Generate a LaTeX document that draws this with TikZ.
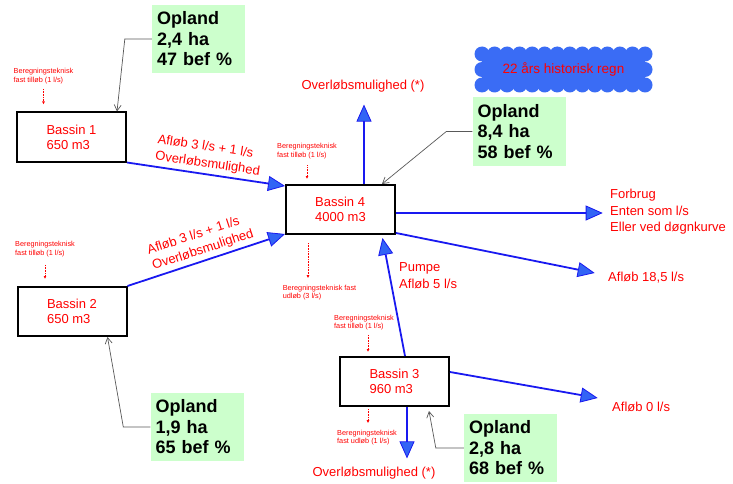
\documentclass[tikz,border=0pt]{standalone}
\usepackage{fontspec}
\setmainfont{Liberation Sans}
\usepackage{tikz}
\usetikzlibrary{arrows.meta,calc}
\definecolor{flowblue}{RGB}{25,25,240}
\definecolor{tipblue}{RGB}{50,100,245}
\definecolor{cloudblue}{RGB}{58,108,245}
\definecolor{oplandgreen}{RGB}{204,255,204}
\newcommand{\flowarrow}{-{Triangle[length=17pt,width=15pt,fill=tipblue,line width=0.8pt]}}
\newcommand{\feedarrow}{-{Straight Barb[length=6pt,width=7pt]}}
\tikzset{
  bassin/.style={draw,line width=2pt,minimum width=109pt,minimum height=49pt,align=left,text=red,font=\fontsize{13}{15}\selectfont},
  opland/.style={fill=oplandgreen,text width=83pt,inner xsep=5pt,minimum height=68pt,align=left,font=\fontsize{18}{20.5}\selectfont\bfseries},
  calcnote/.style={text=red,align=left,inner sep=1pt,font=\fontsize{7.3}{8.7}\selectfont},
  flowlabel/.style={text=red,align=left,font=\fontsize{13}{16.5}\selectfont},
  flow/.style={draw=flowblue,line width=1.8pt},
  calcarrow/.style={red,densely dotted,line width=0.6pt,-{Latex[length=3pt,width=3pt]}},
  feed/.style={gray!70!black,line width=0.7pt}
}

\begin{document}
\begin{tikzpicture}[x=1pt,y=-1pt]
                    \path[fill=white,use as bounding box] (0,0) rectangle (733,484);
                    % bassiner
                    \node[bassin] (b1) at (71.5,137) {Bassin 1\\650 m3};
                    \node[bassin] (b2) at (72,311.5) {Bassin 2\\650 m3};
                    \node[bassin] (b4) at (340.5,209.5) {Bassin 4\\4000 m3};
                    \node[bassin] (b3) at (394.5,381.5) {Bassin 3\\960 m3};
                    % oplande
                    \node[opland] (op1) at (198.5,39) {Opland\\2,4 ha\\47 bef \%};
                    \node[opland] (op4) at (519,131.5) {Opland\\8,4 ha\\58 bef \%};
                    \node[opland] (op2) at (197,427) {Opland\\1,9 ha\\65 bef \%};
                    \node[opland] (op3) at (510.5,448) {Opland\\2,8 ha\\68 bef \%};
                    \draw[feed,\feedarrow] (op1.west) -- ++(-27,0) -- ($(b1.north east)+(-10,0)$);
                    \draw[feed,\feedarrow] (op4.west) -- ++(-26,0) -- ($(b4.north east)+(-14,0)$);
                    \draw[feed,\feedarrow] (op2.west) -- ++(-27,0) -- ($(b2.south east)+(-20,0)$);
                    \draw[feed,\feedarrow] (op3.west) -- ++(-28,0) -- ($(b3.south east)+(-21,4)$);
                    % regn
                    \fill[cloudblue] (482,54) rectangle (645,85);
                    \foreach \i in {0,...,13} {
                        \fill[cloudblue] (482+\i*12.54,54) circle (7.5pt);
                        \fill[cloudblue] (482+\i*12.54,85) circle (7.5pt);
                    }
                    \foreach \x in {482,645} \fill[cloudblue] (\x,69.5) circle (7.5pt);
                    \node[text=red,font=\fontsize{13.5}{16}\selectfont] (regn) at (563.5,69.5) {22 års historisk regn};
                    % afløb
                    \node[flowlabel] (ovl4) at (363,86) {Overløbsmulighed (*)};
                    \node[flowlabel] (ovl3) at (374,473) {Overløbsmulighed (*)};
                    \node[flowlabel,anchor=west] (forbrug) at (606.7,212) {Forbrug\\Enten som l/s\\Eller ved døgnkurve};
                    \node[flowlabel,anchor=west] (afl185) at (604.7,278) {Afløb 18,5 l/s};
                    \node[flowlabel,anchor=west] (afl0) at (608.7,407) {Afløb 0 l/s};
                    \node[flowlabel,anchor=west] (pumpe) at (395.7,275.5) {Pumpe\\Afløb 5 l/s};
                    \coordinate (top4) at ($(b4.north)+(23.5,0)$);
                    \coordinate (bund3) at ($(b3.south)+(12.5,0)$);
                    \coordinate (ud4) at ($(b4.east)+(0,3.5)$);
                    \draw[flow,\flowarrow] (b1.south east) -- node[midway,above,sloped,flowlabel] {Afløb 3 l/s + 1 l/s\\Overløbsmulighed} ($(b4.north west)+(0,2)$);
                    \draw[flow,\flowarrow] (b2.north east) -- node[midway,above,sloped,flowlabel] {Afløb 3 l/s + 1 l/s\\Overløbsmulighed} ($(b4.south west)+(0,-1)$);
                    \draw[flow,\flowarrow] ($(b3.north)+(10.5,0)$) -- ($(b4.south)+(42,3)$);
                    \draw[flow,\flowarrow,shorten >=9pt] (top4) -- (top4 |- ovl4.south);
                    \draw[flow,\flowarrow,shorten >=5pt] (bund3) -- (bund3 |- ovl3.north);
                    \draw[flow,\flowarrow,shorten >=4pt] (ud4) -- (ud4 -| forbrug.west);
                    \draw[flow,\flowarrow] ($(b4.south east)+(0,-2)$) -- ($(afl185.west)+(-10,-5)$);
                    \draw[flow,\flowarrow] ($(b3.east)+(0,-9.5)$) -- ($(afl0.west)+(-11,-9)$);
                    % beregningsteknisk
                    \node[calcnote] (calc1) at (43.5,76) {Beregningsteknisk\\fast tilløb (1 l/s)};
                    \node[calcnote] (calc2) at (45,249) {Beregningsteknisk\\fast tilløb (1 l/s)};
                    \node[calcnote] (calc4in) at (307,151) {Beregningsteknisk\\fast tilløb (1 l/s)};
                    \node[calcnote] (calc4out) at (319.5,292.5) {Beregningsteknisk fast\\udløb (3 l/s)};
                    \node[calcnote] (calc3in) at (364,322.5) {Beregningsteknisk\\fast tilløb (1 l/s)};
                    \node[calcnote] (calc3out) at (367,437.5) {Beregningsteknisk\\fast udløb (1 l/s)};
                    \coordinate (drain4) at ($(b4.south west)+(23,0)$);
                    \coordinate (feed3) at ($(b3.north west)+(29,0)$);
                    \coordinate (drain3) at ($(b3.south west)+(29,0)$);
                    \draw[calcarrow,shorten <=4pt,shorten >=7pt] (calc1.south) -- (calc1.south |- b1.north);
                    \draw[calcarrow,shorten <=7pt,shorten >=7pt] (calc2.south) -- (calc2.south |- b2.north);
                    \draw[calcarrow,shorten <=5.5pt,shorten >=5pt] (calc4in.south) -- (calc4in.south |- b4.north);
                    \draw[calcarrow,shorten <=8pt,shorten >=5.5pt] (drain4) -- (drain4 |- calc4out.north);
                    \draw[calcarrow,shorten <=3.5pt,shorten >=4pt] (feed3 |- calc3in.south) -- (feed3);
                    \draw[calcarrow,shorten <=2pt,shorten >=5.5pt] (drain3) -- (drain3 |- calc3out.north);
                \end{tikzpicture}
\end{document}
